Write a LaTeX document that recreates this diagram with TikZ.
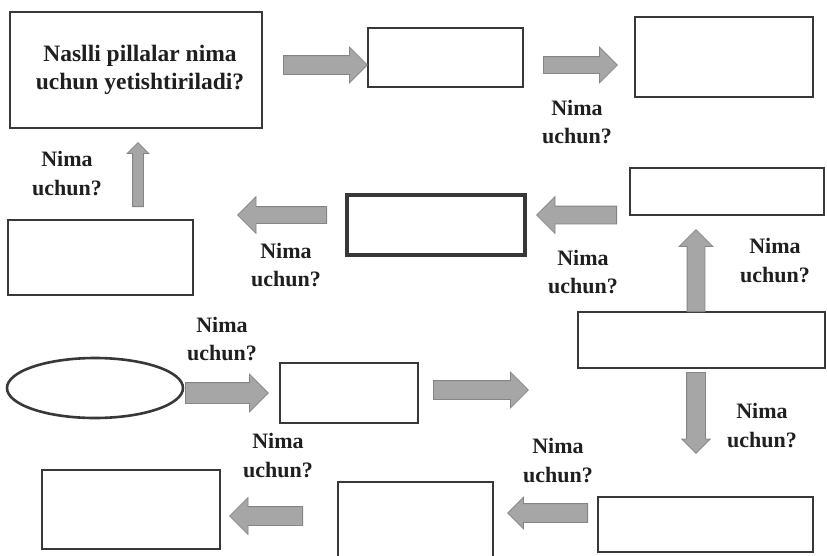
\documentclass[tikz,border=0pt]{standalone}
\usepackage{fontspec}
\setmainfont{Liberation Serif}
\usetikzlibrary{shapes.geometric,shapes.arrows}
\definecolor{boxline}{HTML}{383838}
\definecolor{arrfill}{HTML}{A6A6A6}
\definecolor{arrline}{HTML}{858585}
\tikzset{
  box/.style={draw=boxline, line width=2.6pt, fill=white, inner sep=0pt},
  oval/.style={ellipse, draw=boxline, line width=2.6pt, inner sep=0pt},
  barrow/.style={single arrow, draw=arrline, fill=arrfill, line width=0.8pt,
    inner xsep=0pt, single arrow tip angle=90, anchor=tail},
  why/.style={font=\bfseries\fontsize{22}{28.5}\selectfont, align=center, inner sep=0pt, text=black!88},
}
\begin{document}
\begin{tikzpicture}[x=1pt,y=-1pt]
\useasboundingbox (0,0) rectangle (827,555);
\clip (0,0) rectangle (827,555);
\fill[white] (0,0) rectangle (827,555);
% boxes
\node[box, minimum width=252pt, minimum height=116pt, align=center,
  font=\bfseries\fontsize{23.5}{28}\selectfont, text=black!88] (b1) at (136,70)
  {\hspace*{8pt}Naslli pillalar nima\\\hspace*{8pt}uchun yetishtiriladi?};
\node[box, minimum width=155pt, minimum height=59pt] (b2) at (445.5,57.5) {};
\node[box, minimum width=178pt, minimum height=80pt] (b3) at (724,57) {};
\node[box, minimum width=194pt, minimum height=47pt] (b4) at (727,191.5) {};
\node[box, line width=3.6pt, minimum width=178pt, minimum height=60pt] (b5) at (436,225) {};
\node[box, minimum width=185pt, minimum height=75pt] (b6) at (100.5,257.5) {};
\node[box, minimum width=247pt, minimum height=56pt] (b7) at (701.5,340) {};
\node[oval, minimum width=176pt, minimum height=60pt] (e1) at (95,388) {};
\node[box, minimum width=138pt, minimum height=60pt] (b9) at (349,393) {};
\node[box, minimum width=178pt, minimum height=79pt] (b10) at (131,509.5) {};
\node[box, minimum width=155pt, minimum height=80pt] (b11) at (415.5,522) {};
\node[box, minimum width=215pt, minimum height=55pt] (b12) at (705.5,524.5) {};
% arrows (placed by their tails)
\node[barrow, minimum height=84pt, minimum width=35pt, inner ysep=9pt, single arrow head extend=8.5pt] (a1) at (283,65) {};
\node[barrow, minimum height=74pt, minimum width=35pt, inner ysep=8pt, single arrow head extend=9.5pt] (a2) at (543,65) {};
\node[barrow, rotate=90, minimum height=64pt, minimum width=21pt, inner ysep=5pt, single arrow head extend=5.5pt] (a3) at (138,207) {};
\node[barrow, rotate=180, minimum height=89pt, minimum width=36pt, inner ysep=8pt, single arrow head extend=10pt] (a4) at (327,215) {};
\node[barrow, rotate=180, minimum height=80pt, minimum width=36pt, inner ysep=8.5pt, single arrow head extend=9.5pt] (a5) at (617,215) {};
\node[barrow, rotate=90, minimum height=82pt, minimum width=33pt, inner ysep=8.5pt, single arrow head extend=8pt] (a6) at (696,312) {};
\node[barrow, rotate=-90, minimum height=81pt, minimum width=28pt, inner ysep=9pt, single arrow head extend=5pt] (a7) at (696,372) {};
\node[barrow, minimum height=83pt, minimum width=37pt, inner ysep=10pt, single arrow head extend=8.5pt] (a8) at (185,393) {};
\node[barrow, minimum height=95pt, minimum width=35pt, inner ysep=9pt, single arrow head extend=8.5pt] (a9) at (433,390) {};
\node[barrow, rotate=180, minimum height=80pt, minimum width=31pt, inner ysep=9pt, single arrow head extend=6.5pt] (a10) at (588,513) {};
\node[barrow, rotate=180, minimum height=73pt, minimum width=36pt, inner ysep=9pt, single arrow head extend=9pt] (a11) at (303,516) {};
% labels
\node[why] (l1) at (577,122) {Nima\\uchun?};
\node[why] (l2) at (67,173.5) {Nima\\uchun?};
\node[why] (l3) at (286,265) {Nima\\uchun?};
\node[why] (l4) at (583,272) {Nima\\uchun?};
\node[why] (l5) at (775,260.5) {Nima\\uchun?};
\node[why] (l6) at (222,339) {Nima\\uchun?};
\node[why] (l7) at (762,425.5) {Nima\\uchun?};
\node[why] (l8) at (278,455.5) {Nima\\uchun?};
\node[why] (l9) at (558,460.5) {Nima\\uchun?};
\end{tikzpicture}
\end{document}
